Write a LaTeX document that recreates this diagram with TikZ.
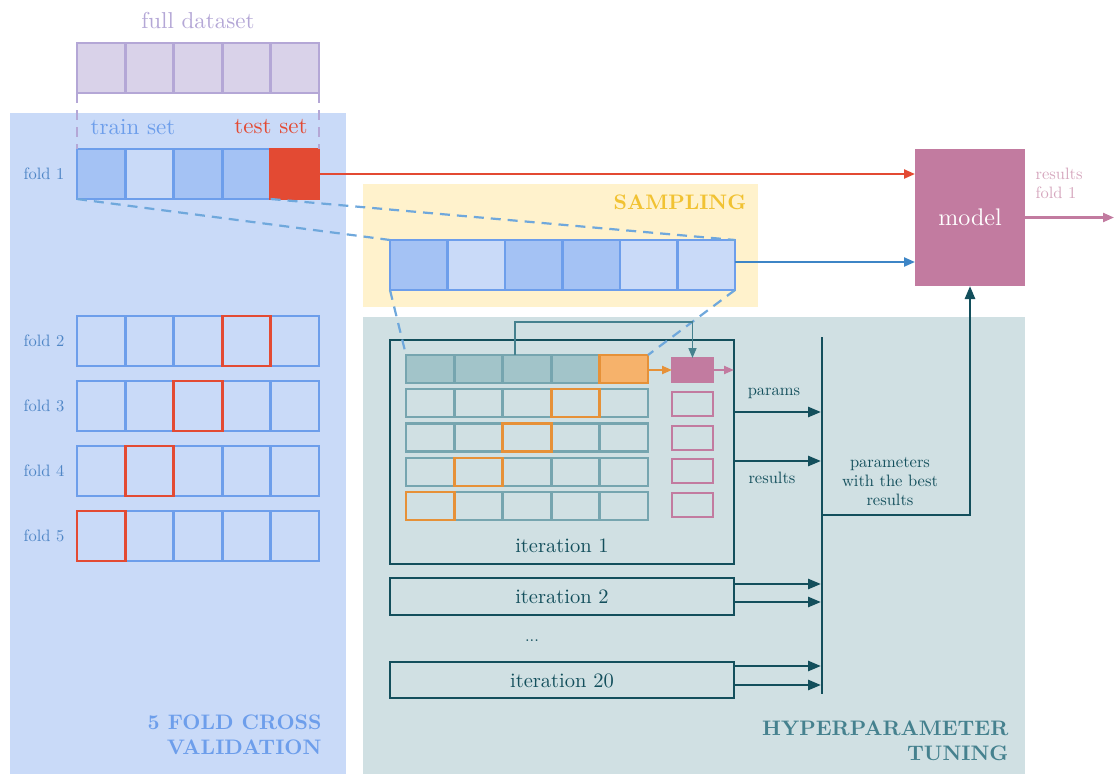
\documentclass[tikz,border=0pt]{standalone}
\usepackage{fontspec}
\setmainfont{lmroman10-regular.otf}[BoldFont=lmroman10-bold.otf, ItalicFont=lmroman10-italic.otf]
\usetikzlibrary{arrows.meta}

\definecolor{lavfill}{HTML}{D9D2E9}
\definecolor{lavline}{HTML}{B4A7D6}
\definecolor{cvpanel}{HTML}{C9DAF8}
\definecolor{cvline}{HTML}{6D9EEB}
\definecolor{cvdark}{HTML}{A4C2F4}
\definecolor{cvtext}{HTML}{4F86C6}
\definecolor{testred}{HTML}{E34A33}
\definecolor{samppanel}{HTML}{FFF2CC}
\definecolor{samptext}{HTML}{F1C232}
\definecolor{dashblue}{HTML}{6FA8DC}
\definecolor{arrowblue}{HTML}{3D85C6}
\definecolor{tunepanel}{HTML}{D0E0E3}
\definecolor{tunedark}{HTML}{134F5C}
\definecolor{tunemid}{HTML}{45818E}
\definecolor{tunelight}{HTML}{76A5AF}
\definecolor{tunefill}{HTML}{A2C4C9}
\definecolor{orangeline}{HTML}{E69138}
\definecolor{orangefill}{HTML}{F6B26B}
\definecolor{modelpink}{HTML}{C27BA0}
\definecolor{resultpink}{HTML}{D5A6BD}

\newcommand\fsz[2]{\fontsize{#1}{#2}\selectfont}

% one row of five cross-validation cells, #3 = index of the test cell
\newcommand\foldrow[3]{%
  \foreach \i in {0,...,4}{%
    \ifnum\i=#3\relax\else
      \node[cvcell] (#1\i) at ({101.2+48.4*\i},#2) {};
    \fi}
  \node[cvcell, draw=testred] (#1#3) at ({101.2+48.4*#3},#2) {};
}
% one row of five tuning cells, #3 = index of the validation cell
\newcommand\tunerow[3]{%
  \foreach \i in {0,...,4}{%
    \ifnum\i=#3\relax\else
      \node[tcell] (#1\i) at ({430.2+48.4*\i},#2) {};
    \fi}
  \node[tcell, draw=orangeline] (#1#3) at ({430.2+48.4*#3},#2) {};
}

\begin{document}
\begin{tikzpicture}[x=1pt, y=-1pt,
  panel/.style={inner sep=0pt, outer sep=0pt, draw=none},
  cell/.style={draw, inner sep=0pt, outer sep=0pt, minimum width=48.4pt, minimum height=50pt, line width=2.8pt},
  cvcell/.style={cell, draw=cvline},
  scell/.style={cell, draw=cvline, minimum width=57.5pt},
  tcell/.style={draw=tunelight, inner sep=0pt, outer sep=0pt, minimum width=48.4pt, minimum height=28pt, line width=2.8pt},
  pbox/.style={draw=modelpink, inner sep=0pt, outer sep=0pt, minimum width=41pt, minimum height=24pt, line width=2.6pt},
  iterbox/.style={draw=tunedark, line width=2.6pt, inner sep=0pt, outer sep=0pt, minimum width=344pt},
  tarr/.style={draw=tunedark, line width=2.6pt, -{Triangle[length=13pt,width=10pt]}},
  thinarr/.style={line width=2.2pt, -{Triangle[length=11pt,width=9pt]}},
  small/.style={font=\fsz{16.5}{19}},
  title/.style={font=\fsz{21}{25}\bfseries, align=right},
  dashcon/.style={dashblue, line width=2.2pt, dash pattern=on 10pt off 7pt},
]
\useasboundingbox (0,0) rectangle (1114,774);

% background panels
\node[panel, fill=cvpanel, minimum width=336pt, minimum height=661pt] (cvp) at (178,443.5) {};
\node[panel, fill=samppanel, minimum width=395pt, minimum height=123pt] (sp) at (560.5,245.5) {};
\node[panel, fill=tunepanel, minimum width=662pt, minimum height=457pt] (tp) at (694,545.5) {};

% full dataset
\foreach \i in {0,...,4}
  \node[cell, draw=lavline, fill=lavfill] (d\i) at ({101.2+48.4*\i},68) {};
\node[text=lavline, font=\fsz{23}{27}] (fulllbl) at (198,21) {full dataset};

% fold 1
\foreach \i/\f in {0/cvdark,1/cvpanel,2/cvdark,3/cvdark}
  \node[cvcell, fill=\f] (f1c\i) at ({101.2+48.4*\i},174) {};
\node[cvcell, draw=testred, fill=testred] (f1c4) at ({101.2+48.4*4},174) {};

\draw[lavline, line width=2.2pt, dash pattern=on 10pt off 7pt] (d0.south west) -- (f1c0.north west);
\draw[lavline, line width=2.2pt, dash pattern=on 10pt off 7pt] (d4.south east) -- (f1c4.north east);

\node[text=cvline, font=\fsz{23}{27}] (trainlbl) at (133,127) {train set};
\node[text=testred, font=\fsz{23}{27}] (testlbl) at (271,127) {test set};

% folds 2 to 5
\foldrow{f2c}{341}{3}
\foldrow{f3c}{406}{2}
\foldrow{f4c}{471}{1}
\foldrow{f5c}{536}{0}

\foreach \k/\y in {1/174,2/341,3/406,4/471,5/536}
  \node[small, text=cvtext] (fl\k) at (44,\y) {fold \k};

\node[title, text=cvline, anchor=east] (cvtitle) at (325,735) {5 FOLD CROSS\\VALIDATION};

% sampling
\node[font=\fsz{21}{25}\bfseries, text=samptext] (samplbl) at (680,202) {SAMPLING};
\foreach \i/\f in {0/cvdark,1/cvpanel,2/cvdark,3/cvdark,4/cvpanel,5/cvpanel}
  \node[scell, fill=\f] (s\i) at ({418.75+57.5*\i},265) {};

\draw[dashcon] (f1c0.south west) -- (s0.north west);
\draw[dashcon] (f1c3.south east) -- (s5.north east);

% model
\node[panel, fill=modelpink, minimum width=110pt, minimum height=137pt,
      text=white, font=\fsz{24}{28}] (model) at (970,217.5) {model};
\draw[testred, thinarr] (f1c4.east) -- (model.west |- f1c4.east);
\coordinate (sout) at ([yshift=3pt]s5.east);
\draw[arrowblue, thinarr] (sout) -- (model.west |- sout);
\coordinate (outend) at (1114,217.5);
\draw[modelpink, thinarr] (model.east) -- (outend);
\node[small, text=resultpink, align=left, anchor=north west] (reslbl) at (1032,165) {results\\fold 1};

% hyperparameter tuning
\node[iterbox, minimum height=224pt] (it1) at (562,452) {};
\node[font=\fsz{20.5}{24}, text=tunedark] (it1lbl) at (562,546) {iteration 1};

\foreach \i in {0,...,3}
  \node[tcell, fill=tunefill] (r1c\i) at ({430.2+48.4*\i},369) {};
\node[tcell, draw=orangeline, fill=orangefill] (r1c4) at ({430.2+48.4*4},369) {};
\tunerow{r2c}{403}{3}
\tunerow{r3c}{437.5}{2}
\tunerow{r4c}{472}{1}
\tunerow{r5c}{506}{0}

\node[pbox, fill=modelpink] (p1) at (692.5,370) {};
\foreach \k/\y in {2/404,3/438,4/471,5/505}
  \node[pbox] (p\k) at (692.5,\y) {};

\draw[dashcon] (s0.south west) -- (r1c0.north west);
\draw[dashcon] (s5.south east) -- (r1c4.north east);

\draw[orangeline, line width=2.2pt, -{Triangle[length=10pt,width=8pt]}] (r1c4.east |- p1.west) -- (p1.west);
\coordinate (p1out) at (it1.east |- p1.east);
\draw[modelpink, line width=2.2pt, -{Triangle[length=10pt,width=8pt]}] (p1.east) -- (p1out);
\coordinate (tapstart) at ([xshift=-12pt]r1c2.north);
\draw[tunemid, line width=1.6pt, -{Triangle[length=10pt,width=8pt]}]
  (tapstart) -- ++(0,-33) -| (p1.north);

% collecting bar
\coordinate (bartop) at (822,337);
\coordinate (barbot) at (822,694);
\draw[tunedark, line width=2.6pt] (bartop) -- (barbot);

\coordinate (pa1) at (821,412);
\coordinate (ra1) at (821,461);
\draw[tarr] (it1.east |- pa1) -- (pa1);
\draw[tarr] (it1.east |- ra1) -- (ra1);
\node[small, text=tunedark] (parlbl) at (774,393) {params};
\node[small, text=tunedark] (reslbl2) at (772,478) {results};

\node[iterbox, minimum height=37pt] (it2) at (562,596.5) {};
\node[font=\fsz{20.5}{24}, text=tunedark] (it2lbl) at (562,597) {iteration 2};
\coordinate (pa2) at (821,584);
\coordinate (ra2) at (821,602);
\draw[tarr] (it2.east |- pa2) -- (pa2);
\draw[tarr] (it2.east |- ra2) -- (ra2);

\node[small, text=tunedark] (dots) at (532,641) {...};

\node[iterbox, minimum height=36pt] (it20) at (562,680) {};
\node[font=\fsz{20.5}{24}, text=tunedark] (it20lbl) at (562,680.5) {iteration 20};
\coordinate (pa20) at (821,666);
\coordinate (ra20) at (821,685);
\draw[tarr] (it20.east |- pa20) -- (pa20);
\draw[tarr] (it20.east |- ra20) -- (ra20);

\node[small, text=tunedark, align=center] (bestlbl) at (890,482) {parameters\\with the best\\results};
\coordinate (barout) at (822,515);
\draw[tarr] (barout) -| (model.south);

\node[title, text=tunemid, anchor=east] (tunetitle) at (1012,741) {HYPERPARAMETER\\TUNING};
\end{tikzpicture}
\end{document}
